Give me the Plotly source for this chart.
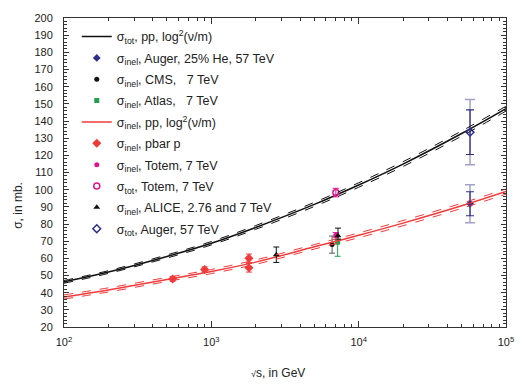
import plotly.graph_objects as go

# ---- model curves ----
curve_x = [100, 200, 500, 1000, 2000, 5000, 10000, 20000, 50000, 100000]
tot_mid = [46.3, 52.0, 61.1, 68.8, 78.0, 91.4, 102.7, 114.9, 132.7, 147.2]
tot_hi = [47.1, 52.8, 62.0, 69.8, 79.1, 92.6, 104.0, 116.3, 134.2, 148.6]
tot_lo = [45.5, 51.2, 60.2, 67.8, 76.9, 90.2, 101.4, 113.5, 131.2, 145.8]
inel_mid = [37.5, 41.6, 47.7, 52.3, 57.8, 66.7, 73.4, 80.5, 90.6, 98.9]
inel_hi = [38.7, 42.8, 48.9, 53.5, 59.1, 68.0, 74.8, 82.0, 92.1, 100.4]
inel_lo = [36.3, 40.4, 46.5, 51.1, 56.5, 65.4, 72.0, 79.0, 89.1, 97.4]

# ---- data points ----
pbar_x = [546, 900, 1800, 1800]
pbar_y = [48.0, 53.5, 60.0, 54.5]
pbar_err = [1.3, 1.5, 2.5, 2.5]

auger_inel_x = [57000]
auger_inel_y = [91.8]
auger_inel_err = [7.0]
auger_inel_err_out = [11.0]

auger_tot_x = [57000]
auger_tot_y = [133.5]
auger_tot_err = [13.0]
auger_tot_err_out = [19.0]

cms_x = [6600]
cms_y = [68.0]
cms_err = [5.0]

atlas_x = [7200]
atlas_y = [69.4]
atlas_err_plus = [1.4]
atlas_err_minus = [8.2]

totem_inel_x = [7000]
totem_inel_y = [73.5]
totem_inel_err = [1.5]

totem_tot_x = [7000]
totem_tot_y = [98.3]
totem_tot_err = [2.5]

alice_x = [2760, 7240]
alice_y = [62.1, 73.2]
alice_err_plus = [4.5, 4.4]
alice_err_minus = [4.5, 2.0]

y_ticks = list(range(20, 201, 10))
x_tickvals = [100, 1000, 10000, 100000]
x_ticktext = ["10<sup>2</sup>", "10<sup>3</sup>", "10<sup>4</sup>", "10<sup>5</sup>"]
x_minor = [m * d for d in (100, 1000, 10000) for m in range(2, 10)]

BLACK = "#111111"
RED = "#f03a3a"
NAVY = "#2e2e8c"
GREEN = "#1fa050"
MAG = "#e0148c"

fig = go.Figure()

def band(y, color):
    fig.add_trace(go.Scatter(x=curve_x, y=y, mode="lines", line=dict(color=color, width=1, dash="dash", shape="spline"),
                             showlegend=False, hoverinfo="skip"))

fig.add_trace(go.Scatter(x=curve_x, y=tot_mid, mode="lines", line=dict(color=BLACK, width=1.5, shape="spline"),
                         name="σ<sub>tot</sub>, pp, log<sup>2</sup>(ν/m)", legendgroup="g1"))
fig.add_trace(go.Scatter(x=auger_inel_x, y=auger_inel_y, mode="markers",
                         marker=dict(symbol="diamond", color=NAVY, size=6),
                         error_y=dict(type="data", array=auger_inel_err, color=NAVY, thickness=1.2, width=4),
                         name="σ<sub>inel</sub>, Auger, 25% He, 57 TeV", legendgroup="g2"))
fig.add_trace(go.Scatter(x=cms_x, y=cms_y, mode="markers",
                         marker=dict(symbol="circle", color=BLACK, size=5),
                         error_y=dict(type="data", array=cms_err, color="#555555", thickness=1, width=3),
                         name="σ<sub>inel</sub>, CMS,   7 TeV", legendgroup="g3"))
fig.add_trace(go.Scatter(x=atlas_x, y=atlas_y, mode="markers",
                         marker=dict(symbol="square", color=GREEN, size=5),
                         error_y=dict(type="data", symmetric=False, array=atlas_err_plus, arrayminus=atlas_err_minus,
                                      color=GREEN, thickness=1, width=3),
                         name="σ<sub>inel</sub>, Atlas,   7 TeV", legendgroup="g4"))
fig.add_trace(go.Scatter(x=curve_x, y=inel_mid, mode="lines", line=dict(color=RED, width=1.5, shape="spline"),
                         name="σ<sub>inel</sub>, pp, log<sup>2</sup>(ν/m)", legendgroup="g5"))
fig.add_trace(go.Scatter(x=pbar_x, y=pbar_y, mode="markers",
                         marker=dict(symbol="diamond", color=RED, size=7),
                         error_y=dict(type="data", array=pbar_err, color=RED, thickness=1, width=3),
                         name="σ<sub>inel</sub>, pbar p", legendgroup="g6"))
fig.add_trace(go.Scatter(x=totem_inel_x, y=totem_inel_y, mode="markers",
                         marker=dict(symbol="circle", color=MAG, size=5),
                         error_y=dict(type="data", array=totem_inel_err, color=MAG, thickness=1, width=3),
                         name="σ<sub>inel</sub>, Totem, 7 TeV", legendgroup="g7"))
fig.add_trace(go.Scatter(x=totem_tot_x, y=totem_tot_y, mode="markers",
                         marker=dict(symbol="circle-open", color=MAG, size=6, line=dict(width=1.5)),
                         error_y=dict(type="data", array=totem_tot_err, color=MAG, thickness=1, width=3),
                         name="σ<sub>tot</sub>, Totem, 7 TeV", legendgroup="g8"))
fig.add_trace(go.Scatter(x=alice_x, y=alice_y, mode="markers",
                         marker=dict(symbol="triangle-up", color=BLACK, size=6),
                         error_y=dict(type="data", symmetric=False, array=alice_err_plus, arrayminus=alice_err_minus,
                                      color=BLACK, thickness=1, width=3),
                         name="σ<sub>inel</sub>, ALICE, 2.76 and 7 TeV", legendgroup="g9"))
fig.add_trace(go.Scatter(x=auger_tot_x, y=auger_tot_y, mode="markers",
                         marker=dict(symbol="diamond-open", color=NAVY, size=6, line=dict(width=1.5)),
                         error_y=dict(type="data", array=auger_tot_err, color=NAVY, thickness=1.2, width=4),
                         name="σ<sub>tot</sub>, Auger, 57 TeV", legendgroup="g10"))

band(tot_hi, BLACK)
band(tot_lo, BLACK)
band(inel_hi, RED)
band(inel_lo, RED)

for xs, ys, es in [(auger_tot_x, auger_tot_y, auger_tot_err_out), (auger_inel_x, auger_inel_y, auger_inel_err_out)]:
    fig.add_trace(go.Scatter(x=xs, y=ys, mode="markers", marker=dict(opacity=0, size=1),
                             error_y=dict(type="data", array=es, color="rgba(46,46,140,0.45)", thickness=1.5, width=5),
                             showlegend=False, hoverinfo="skip"))

axis_font = dict(family="Liberation Sans, Arial, sans-serif", size=11, color="#222222")

W, H = 450.0, 314.0
def px(x):
    return (x - 64) / W
def py(y):
    return 1 - (y - 13) / H

fig.update_layout(
    width=526, height=385,
    margin=dict(l=64, r=12, t=13, b=58),
    paper_bgcolor="white", plot_bgcolor="white",
    font=dict(family="Liberation Sans, Arial, sans-serif", size=12, color="#222222"),
    showlegend=True,
    legend=dict(x=px(77), y=py(17), xanchor="left", yanchor="top", bgcolor="rgba(0,0,0,0)",
                font=dict(size=12.5, color="#222222"), itemwidth=30, tracegroupgap=2.1),
    xaxis=dict(type="log", range=[2, 5], tickvals=x_tickvals, ticktext=x_ticktext,
               ticks="inside", ticklen=6, tickcolor="#333", showline=True, linecolor="#333", linewidth=1,
               mirror="ticks", showgrid=False, zeroline=False, tickfont=axis_font, ticklabelstandoff=5,
               minor=dict(tickvals=x_minor, ticks="inside", ticklen=3, tickcolor="#333", showgrid=False)),
    yaxis=dict(range=[20, 200], tickvals=y_ticks, ticks="inside", ticklen=5, tickcolor="#333",
               showline=True, linecolor="#333", linewidth=1, mirror="ticks", showgrid=False, zeroline=False,
               tickfont=axis_font, ticklabelstandoff=8,
               minor=dict(dtick=2, ticks="inside", ticklen=3, tickcolor="#333", showgrid=False)),
    annotations=[
        dict(text="σ, in mb.", x=px(17), y=py(203), xref="paper", yref="paper", showarrow=False, textangle=-90,
             xanchor="center", yanchor="middle", font=dict(size=12, color="#222222")),
        dict(text="<span style='font-size:9px'>√</span>s, in GeV", x=px(282), y=py(374), xref="paper", yref="paper",
             xanchor="center", yanchor="middle", showarrow=False, font=dict(size=12, color="#222222")),
    ],
)

fig.write_html("out.html", config={"displayModeBar": False},
               post_script="document.body.style.margin='0';document.body.style.padding='0';")
